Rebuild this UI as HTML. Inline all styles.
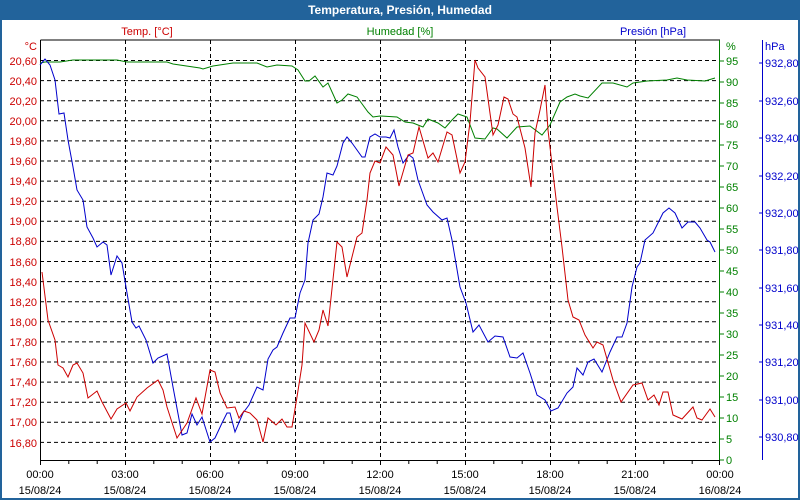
<!DOCTYPE html>
<html><head><meta charset="utf-8"><style>
html,body{margin:0;padding:0;background:#fff}
svg{display:block;font-family:"Liberation Sans",sans-serif;font-size:11px}
</style></head><body>
<svg width="800" height="500" xmlns="http://www.w3.org/2000/svg">
<rect x="0" y="0" width="800" height="500" fill="#fff"/>
<rect x="0" y="0" width="800" height="20" fill="#22639b"/>
<rect x="0" y="0" width="2" height="500" fill="#22639b"/>
<rect x="798" y="0" width="2" height="500" fill="#22639b"/>
<rect x="0" y="498" width="800" height="2" fill="#22639b"/>
<text x="400" y="14" fill="#fff" font-weight="bold" font-size="12" text-anchor="middle">Temperatura, Presión, Humedad</text>
<text x="147" y="35" fill="#cc0000" text-anchor="middle">Temp. [°C]</text>
<text x="400" y="35" fill="#008000" text-anchor="middle">Humedad [%]</text>
<text x="653" y="35" fill="#0000cc" text-anchor="middle">Presión [hPa]</text>
<g stroke="#000" stroke-dasharray="4,3" stroke-width="1">
<path d="M40 60.5H720M40 80.6H720M40 100.7H720M40 120.8H720M40 140.9H720M40 161H720M40 181.1H720M40 201.2H720M40 221.3H720M40 241.4H720M40 261.5H720M40 281.6H720M40 301.7H720M40 321.8H720M40 341.9H720M40 362H720M40 382.1H720M40 402.2H720M40 422.3H720M40 442.4H720"/>
<path d="M125.5 40V460M210.5 40V460M295.5 40V460M380.5 40V460M465.5 40V460M550.5 40V460M635.5 40V460"/>
</g>
<path d="M40.5 40V460.5H720" stroke="#000" fill="none"/>
<path d="M40.5 40H720" stroke="#000"/>
<path d="M719.5 40V460" stroke="#008000"/>
<path d="M762.5 40V460" stroke="#0000cc"/>
<g stroke="#000"><path d="M40.5 460v5M68.8 460v4M97.2 460v4M125.5 460v5M153.8 460v4M182.2 460v4M210.5 460v5M238.8 460v4M267.2 460v4M295.5 460v5M323.8 460v4M352.2 460v4M380.5 460v5M408.8 460v4M437.2 460v4M465.5 460v5M493.8 460v4M522.2 460v4M550.5 460v5M578.8 460v4M607.2 460v4M635.5 460v5M663.8 460v4M692.2 460v4M719.5 460v5"/></g>
<g fill="#cc0000" text-anchor="end">
<text x="37" y="50">°C</text>
<text x="37" y="65">20,60</text><text x="37" y="85">20,40</text><text x="37" y="105">20,20</text><text x="37" y="125">20,00</text><text x="37" y="145">19,80</text><text x="37" y="165">19,60</text><text x="37" y="185">19,40</text><text x="37" y="205">19,20</text><text x="37" y="225">19,00</text><text x="37" y="245">18,80</text><text x="37" y="266">18,60</text><text x="37" y="286">18,40</text><text x="37" y="306">18,20</text><text x="37" y="326">18,00</text><text x="37" y="346">17,80</text><text x="37" y="366">17,60</text><text x="37" y="386">17,40</text><text x="37" y="406">17,20</text><text x="37" y="426">17,00</text><text x="37" y="447">16,80</text>
</g>
<g stroke="#008000"><path d="M720 61h4M720 82h4M720 103h4M720 124h4M720 145h4M720 166h4M720 187h4M720 208h4M720 229h4M720 250h4M720 271h4M720 292h4M720 313h4M720 334h4M720 355h4M720 376h4M720 397h4M720 418h4M720 439h4M720 460h4"/></g>
<g fill="#008000">
<text x="726" y="50">%</text>
<text x="726" y="65">95</text><text x="726" y="86">90</text><text x="726" y="107">85</text><text x="726" y="128">80</text><text x="726" y="149">75</text><text x="726" y="170">70</text><text x="726" y="191">65</text><text x="726" y="212">60</text><text x="726" y="233">55</text><text x="726" y="254">50</text><text x="726" y="275">45</text><text x="726" y="296">40</text><text x="726" y="317">35</text><text x="726" y="338">30</text><text x="726" y="359">25</text><text x="726" y="380">20</text><text x="726" y="401">15</text><text x="726" y="422">10</text><text x="726" y="443">5</text><text x="726" y="464">0</text>
</g>
<g stroke="#0000cc"><path d="M759 63h4M759 101h4M759 138h4M759 176h4M759 213h4M759 250h4M759 288h4M759 325h4M759 362h4M759 400h4M759 437h4"/></g>
<g fill="#0000cc">
<text x="765" y="50">hPa</text>
<text x="765" y="67">932,80</text><text x="765" y="105">932,60</text><text x="765" y="142">932,40</text><text x="765" y="180">932,20</text><text x="765" y="217">932,00</text><text x="765" y="254">931,80</text><text x="765" y="292">931,60</text><text x="765" y="329">931,40</text><text x="765" y="366">931,20</text><text x="765" y="404">931,00</text><text x="765" y="441">930,80</text>
</g>
<g fill="#000" text-anchor="middle">
<text x="40" y="478">00:00</text><text x="40" y="494">15/08/24</text>
<text x="125" y="478">03:00</text><text x="125" y="494">15/08/24</text>
<text x="210" y="478">06:00</text><text x="210" y="494">15/08/24</text>
<text x="295" y="478">09:00</text><text x="295" y="494">15/08/24</text>
<text x="380" y="478">12:00</text><text x="380" y="494">15/08/24</text>
<text x="465" y="478">15:00</text><text x="465" y="494">15/08/24</text>
<text x="550" y="478">18:00</text><text x="550" y="494">15/08/24</text>
<text x="635" y="478">21:00</text><text x="635" y="494">15/08/24</text>
<text x="720" y="478">00:00</text><text x="720" y="494">16/08/24</text>
</g>
<g fill="none" stroke-width="1">
<polyline stroke="#008000" points="40,63 45,62 60,62 73,60 117,60 127,62 167,62 173,64 200,68 203,69 213,66 233,63 257,63 267,67 277,65 292,66 298,70 305,81 309,81 315,76 323,87 328,83 337,103 342,100 348,94 357,97 368,112 373,117 380,116 397,117 405,122 413,123 423,127 428,119 438,123 445,128 452,120 458,114 467,117 475,138 485,139 493,128 497,129 507,138 517,127 530,126 542,135 550,125 560,102 567,97 575,94 580,96 588,98 602,83 613,83 627,87 633,83 647,81 667,80 677,78 687,80 705,81 715,78"/>
<polyline stroke="#0000cc" points="40,65 45,59 50,65 55,80 59,114 64,113 68,140 73,167 77,190 83,200 87,227 93,238 97,247 103,242 107,245 111,275 117,256 122,263 127,293 132,322 136,328 139,326 146,340 153,363 158,358 167,354 173,387 182,435 187,433 192,414 197,425 202,417 210,442 215,438 222,423 227,413 230,413 235,432 243,413 249,405 257,387 263,390 268,359 273,350 277,347 283,333 290,318 295,318 300,293 305,280 308,243 313,220 319,214 323,197 327,173 333,175 337,166 343,143 347,137 352,143 362,157 365,157 370,137 375,134 380,137 386,137 390,138 394,130 398,147 403,163 409,155 413,158 418,180 427,205 433,212 442,220 447,218 452,240 460,287 466,303 473,332 479,325 488,342 495,336 503,337 510,357 517,358 523,353 530,373 537,395 545,400 551,411 558,408 567,393 573,387 577,368 583,375 588,362 594,359 602,372 610,352 617,337 622,337 627,323 632,287 637,267 640,263 645,240 653,233 663,213 669,208 675,213 682,228 688,222 695,222 700,228 707,240 710,242 715,252"/>
<polyline stroke="#cc0000" points="42,272 48,320 55,340 58,365 63,368 68,377 73,365 77,363 83,373 88,398 97,391 102,402 111,419 117,409 126,403 130,411 137,397 147,388 158,380 163,390 167,407 177,438 187,423 196,398 202,414 210,370 215,372 220,393 227,408 235,407 239,418 244,411 250,413 257,420 263,442 268,418 276,425 282,419 287,427 292,427 297,397 302,365 305,323 314,342 319,330 323,310 328,326 337,242 342,247 347,277 357,237 362,233 367,200 370,173 375,161 380,163 386,147 393,155 399,186 408,155 413,153 419,127 428,158 433,153 438,162 447,132 452,135 460,173 465,162 470,122 475,60 478,68 485,77 493,135 498,125 504,97 508,99 513,114 517,117 525,148 531,187 535,133 540,110 545,85 548,130 553,173 557,207 562,247 568,300 573,317 579,320 585,335 593,348 597,342 603,345 613,380 621,402 633,385 642,383 648,400 654,395 659,405 663,392 668,392 673,415 682,419 693,407 697,418 702,420 710,409 715,417"/>
</g>
</svg>
</body></html>
